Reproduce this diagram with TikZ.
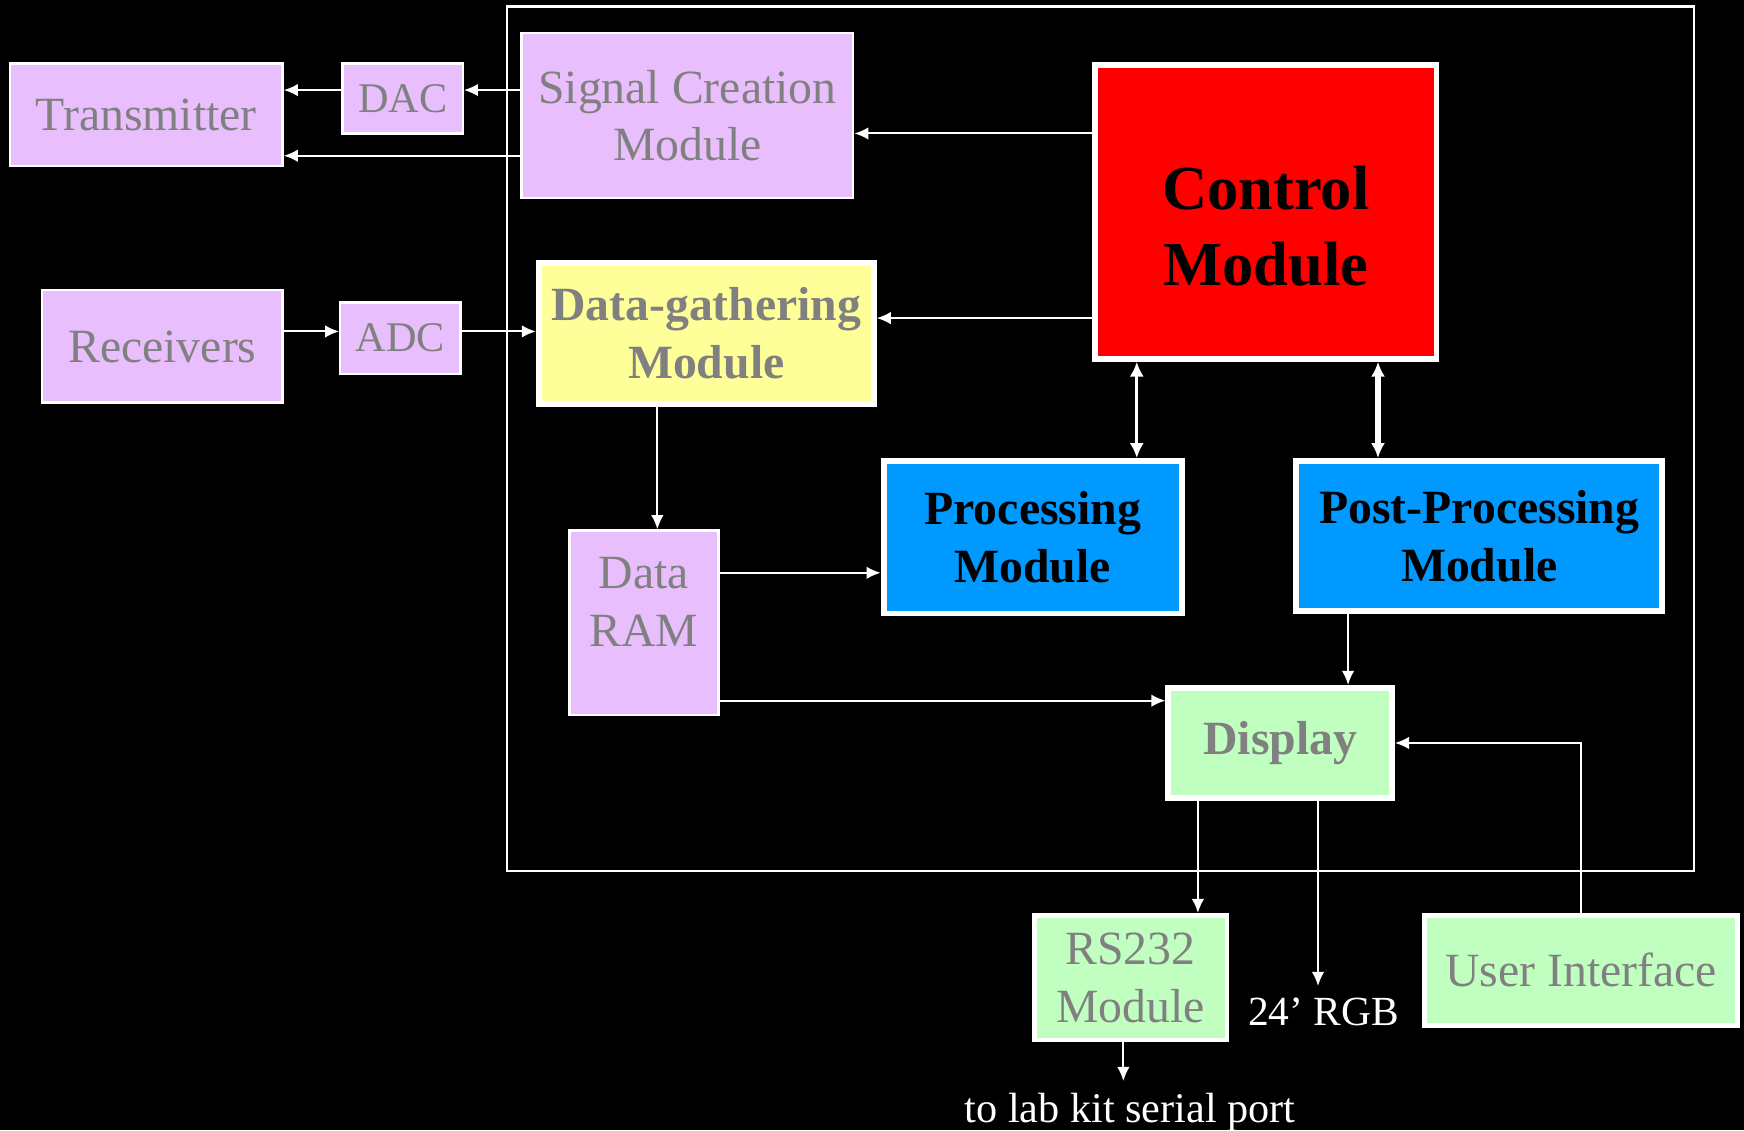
\documentclass[tikz,border=0pt]{standalone}
\usepackage{fontspec}
\setmainfont{Liberation Serif}
\usetikzlibrary{arrows.meta}

\definecolor{lav}{RGB}{232,190,252}
\definecolor{yel}{RGB}{255,255,153}
\definecolor{blu}{RGB}{0,153,255}
\definecolor{grn}{RGB}{192,255,192}
\definecolor{txtgrey}{RGB}{128,128,128}

\begin{document}
\begin{tikzpicture}[x=0.01cm,y=-0.01cm,
		thinbox/.style={draw=white,line width=0.6pt,inner sep=0pt,align=center,
			text=txtgrey,font=\fontsize{12.2}{14.8}\selectfont},
		thickbox/.style={thinbox,line width=1.5pt},
		boldtext/.style={font=\fontsize{12.2}{14.8}\selectfont\bfseries},
		smalltext/.style={font=\fontsize{10.8}{13}\selectfont},
		conn/.style={white,line width=0.5pt,-{Latex[length=3.6pt,width=3.2pt]}},
		dblconn/.style={white,{Latex[length=3.8pt,width=3.6pt]}-{Latex[length=3.8pt,width=3.6pt]}}]
		% background
		\fill[black] (0,0) rectangle (1568,1016);
		\useasboundingbox (0,0) rectangle (1568,1016);
		
		% FPGA frame
		\draw[white,line width=0.6pt] (456,6) rectangle (1523,783);
		
		% outside blocks
		\node[thinbox,fill=lav,minimum width=2.45cm,minimum height=0.92cm] (tx) at (131.5,103) {Transmitter};
		\node[thinbox,fill=lav,smalltext,minimum width=1.08cm,minimum height=0.63cm] (dac) at (362,88.5) {DAC};
		\node[thinbox,fill=lav,minimum width=2.16cm,minimum height=1.01cm] (rcv) at (146,311.5) {Receivers};
		\node[thinbox,fill=lav,smalltext,minimum width=1.08cm,minimum height=0.64cm] (adc) at (360,304) {ADC};
		
		% modules
		\node[thinbox,fill=lav,minimum width=2.98cm,minimum height=1.48cm] (scm) at (618,104) {Signal Creation\\Module};
		\node[thickbox,fill=yel,boldtext,minimum width=3.01cm,minimum height=1.27cm] (dgm) at (635,300) {Data-gathering\\Module};
		\node[thickbox,fill=red,minimum width=3.07cm,minimum height=2.64cm] (ctl) at (1138,190.5) {};
		\node[align=center,font=\fontsize{16}{19.6}\selectfont\bfseries] (ctltxt) at (1138,203.5) {Control\\Module};
		\node[thickbox,fill=blu,boldtext,text=black,minimum width=2.68cm,minimum height=1.37cm] (proc) at (928.5,483) {Processing\\Module};
		\node[thickbox,fill=blu,boldtext,text=black,minimum width=3.29cm,minimum height=1.35cm] (post) at (1330,482) {Post-Processing\\Module};
		\node[thinbox,fill=lav,minimum width=1.34cm,minimum height=1.66cm] (ram) at (579,560) {};
		\node[align=center,text=txtgrey,font=\fontsize{12.2}{14.8}\selectfont] (ramtxt) at (579,541) {Data\\RAM};
		\node[thickbox,fill=grn,boldtext,minimum width=2.01cm,minimum height=0.99cm] (disp) at (1151,668) {Display};
		
		% bottom blocks
		\node[thickbox,line width=1.2pt,fill=grn,minimum width=1.73cm,minimum height=1.12cm] (rs) at (1016.5,879) {RS232\\Module};
		\node[thickbox,line width=1.2pt,fill=grn,minimum width=2.81cm,minimum height=0.99cm] (ui) at (1421.5,872.5) {User Interface};
		\node[white,anchor=base,inner sep=1mm,font=\fontsize{10.6}{13}\selectfont] (rgb) at (1190,922) {24’ RGB};
		\node[white,anchor=base,inner sep=1mm,smalltext] (port) at (1016,1009) {to lab kit serial port};
		
		% connectors
		\draw[conn] ([yshift=0.75mm]dac.east -| scm.west) -- ([yshift=0.75mm]dac.east);
		\draw[conn] ([yshift=0.75mm]dac.west) -- ([yshift=0.75mm]dac.west -| tx.east);
		\draw[conn] ([yshift=-3.7mm]tx.east -| scm.west) -- ([yshift=-3.7mm]tx.east);
		\draw[conn] ([yshift=-1.6mm]scm.east -| ctl.west) -- ([yshift=-1.6mm]scm.east);
		\draw[conn] ([yshift=1.4mm]dgm.east -| ctl.west) -- ([yshift=1.4mm]dgm.east);
		\draw[conn] ([yshift=0.6mm]adc.west -| rcv.east) -- ([yshift=0.6mm]adc.west);
		\draw[conn] ([yshift=0.6mm]adc.east) -- ([yshift=0.6mm]adc.east -| dgm.west);
		\draw[conn] ([xshift=1.2mm]ram.north |- dgm.south) -- ([xshift=1.2mm]ram.north);
		\draw[conn] ([yshift=-3.2mm]proc.west -| ram.east) -- ([yshift=-3.2mm]proc.west);
		\draw[conn] ([yshift=3.8mm]disp.west -| ram.east) -- ([yshift=3.8mm]disp.west);
		\draw[dblconn,line width=0.85pt] ([xshift=9.35mm]proc.north |- ctl.south) -- ([xshift=9.35mm]proc.north);
		\draw[dblconn,line width=1.3pt] ([xshift=-9.1mm]post.north |- ctl.south) -- ([xshift=-9.1mm]post.north);
		\draw[conn] ([xshift=6.1mm]disp.north |- post.south) -- ([xshift=6.1mm]disp.north);
		\draw[conn] (ui.north) |- (disp.east);
		\draw[conn] ([xshift=6.05mm]rs.north |- disp.south) -- ([xshift=6.05mm]rs.north);
		\draw[conn] ([xshift=3.4mm]disp.south) -- ([xshift=3.4mm]disp.south |- rgb.north);
		\draw[conn] ([xshift=-0.65mm]rs.south) -- ([xshift=-0.65mm]rs.south |- port.north);
	\end{tikzpicture}
\end{document}
